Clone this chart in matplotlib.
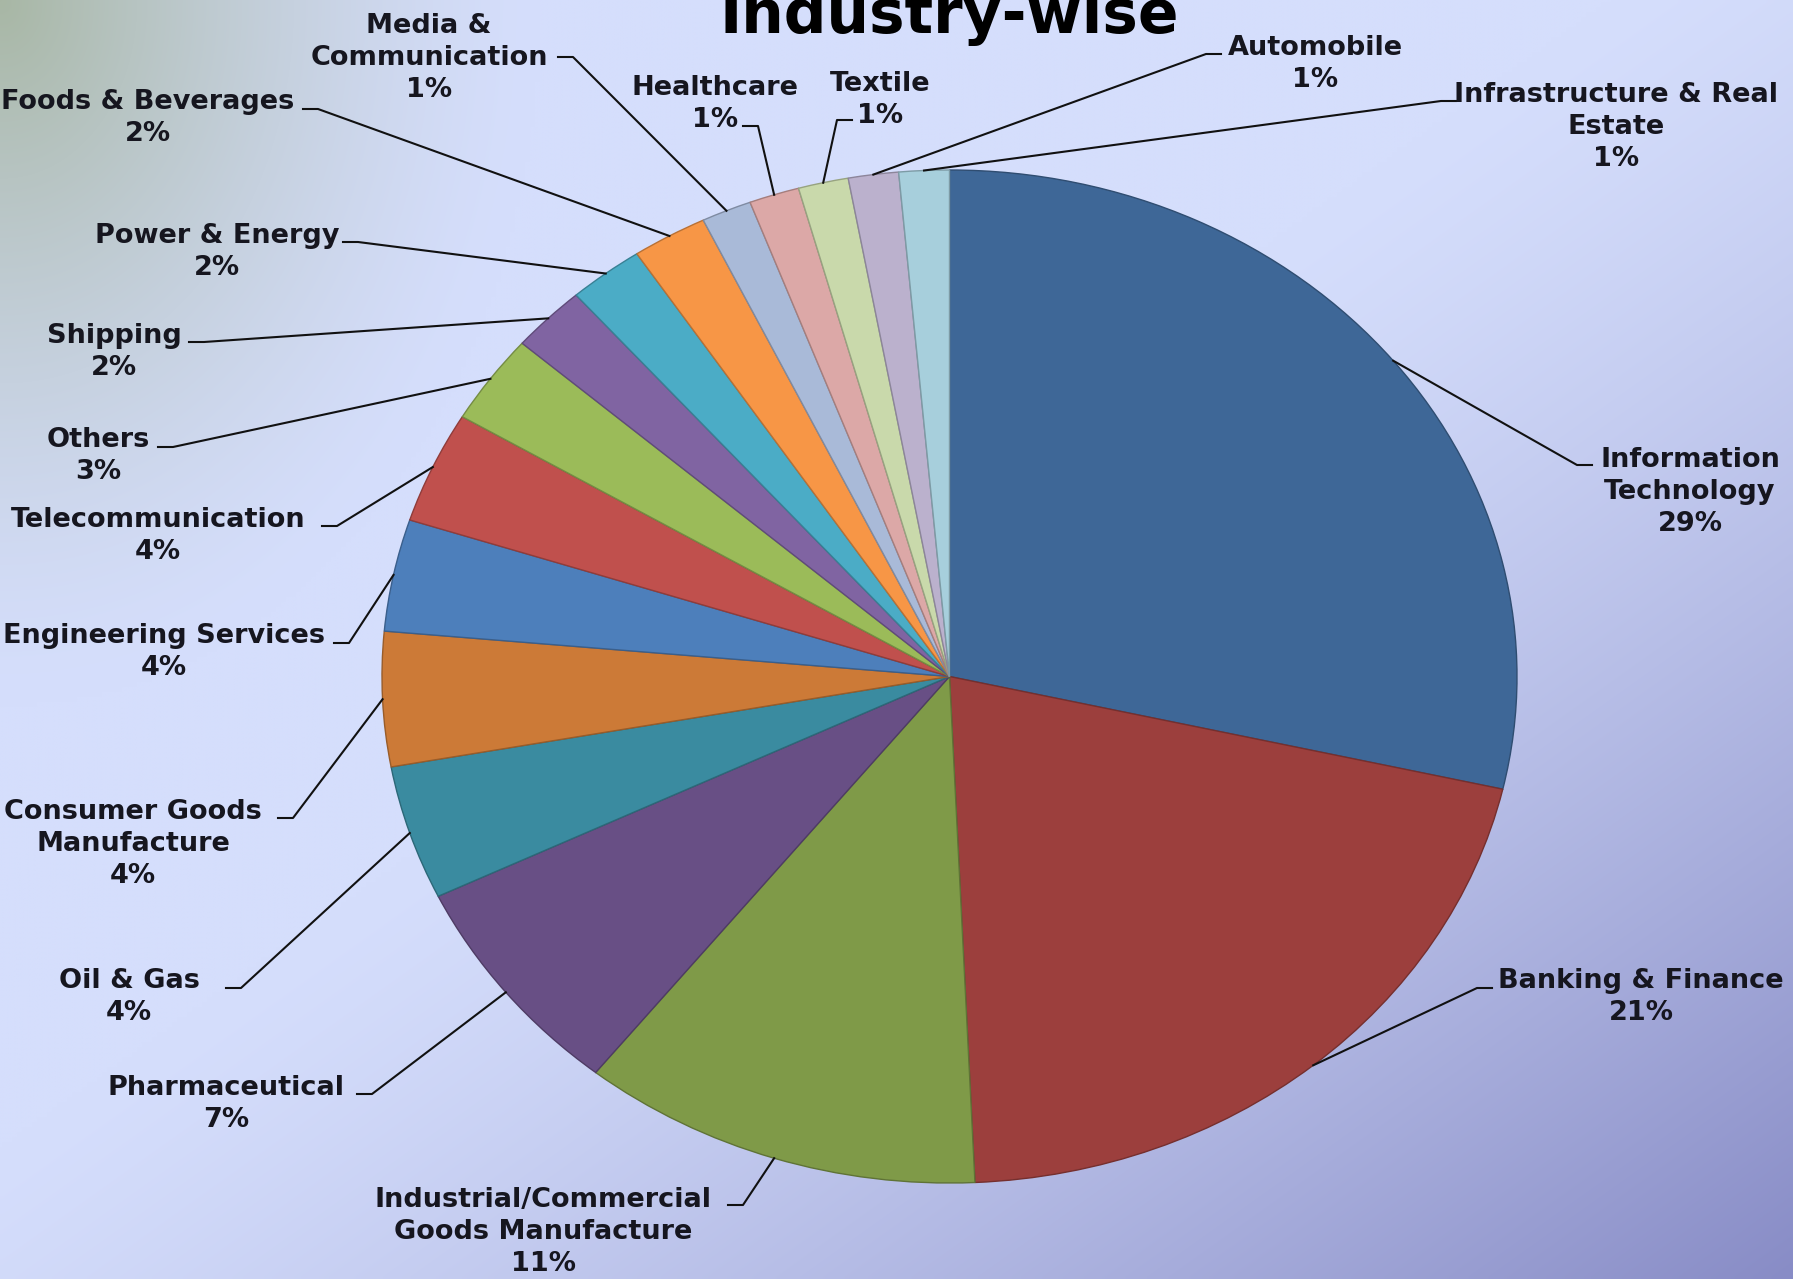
#!/usr/bin/env python

import numpy as np
import matplotlib.pyplot as plt
from matplotlib.lines import Line2D
from matplotlib.colors import to_rgb

# number of companies per industry, clockwise from 12 o'clock
industries = ["Information\nTechnology", "Banking & Finance",
              "Industrial/Commercial\nGoods Manufacture", "Pharmaceutical",
              "Oil & Gas", "Consumer Goods\nManufacture", "Engineering Services",
              "Telecommunication", "Others", "Shipping", "Power & Energy",
              "Foods & Beverages", "Media &\nCommunication", "Healthcare",
              "Textile", "Automobile", "Infrastructure & Real\nEstate"]
companies = [40, 29, 16, 10, 6, 6, 5, 5, 4, 3, 3, 3, 2, 2, 2, 2, 2]
colors = ["#3e6797", "#9c3f3d", "#7f9a48", "#684f85", "#3a8ba0", "#cc7a37",
          "#4d7fbb", "#c0504d", "#9bbb59", "#8064a2", "#4bacc6", "#f79646",
          "#a9bad8", "#dca8a7", "#c9d9ab", "#bbb1cd", "#a7cfdc"]

# label block centres and leader start points (figure pixels, from top-left)
label_pos = [(1690, 492), (1641, 997), (543, 1232), (226, 1104), (129, 997),
             (133, 844), (164, 652), (158, 536), (98, 456), (114, 352),
             (217, 252), (148, 118), (429, 58), (715, 104), (880, 100),
             (1315, 64), (1616, 127)]
leader_pos = [(1592, 465), (1492, 988), (728, 1205), (357, 1094), (226, 988),
              (278, 818), (334, 643), (322, 526), (158, 447), (189, 342),
              (343, 242), (303, 109), (558, 57), (743, 126), (852, 120),
              (1221, 54), (1456, 101)]

W, H = 1793, 1279
fig = plt.figure(figsize=(W / 100, H / 100), dpi=100)

# background: light periwinkle, greyish-green top-left, darker bottom-right
u, v = np.meshgrid(np.linspace(0, 1, 360), np.linspace(0, 1, 256))
base = np.array([213, 222, 252]) / 255
c_br = np.array([136, 140, 198]) / 255
c_tl = np.array([168, 183, 165]) / 255
w_br = np.clip(((u + v) / 2 - 0.45) / 0.55, 0, 1) ** 1.3
w_tl = np.clip(1 - np.sqrt((u / 0.3) ** 2 + (v / 0.55) ** 2), 0, 1) ** 1.4
grad = base + w_br[..., None] * (c_br - base) + w_tl[..., None] * (c_tl - base)
bg = fig.add_axes([0, 0, 1, 1])
bg.imshow(np.clip(grad, 0, 1), extent=[0, 1, 0, 1], aspect="auto",
          interpolation="bilinear")
bg.axis("off")

# the pie is stretched into an ellipse
ax = fig.add_axes([382 / W, 96 / H, 1135 / W, 1013 / H])
wedges, _ = ax.pie(companies, colors=colors, startangle=90, counterclock=False,
                   wedgeprops=dict(linewidth=1.0))
for w in wedges:
    w.set_edgecolor(tuple(c * 0.75 for c in to_rgb(w.get_facecolor()[:3])))
ax.set_aspect("auto")
ax.set_xlim(-1, 1)
ax.set_ylim(-1, 1)
ax.axis("off")

total = sum(companies)
for w, name, n, (tx, ty), (lx, ly) in zip(wedges, industries, companies,
                                          label_pos, leader_pos):
    fig.text(tx / W, 1 - ty / H, f"{name}\n{round(100 * n / total)}%",
             ha="center", va="center", fontsize=19.5, fontweight="bold",
             linespacing=1.32, color="#16161f")
    mid = np.deg2rad((w.theta1 + w.theta2) / 2)
    px, py = ax.transData.transform((np.cos(mid), np.sin(mid)))
    sy = H - ly
    sign = 1 if px > lx else -1
    fig.add_artist(Line2D([lx / W, (lx + 15 * sign) / W, px / W],
                          [sy / H, sy / H, py / H], color="#111111", lw=1.5))

fig.text(949 / W, 1 - 33 / H, "Industry-wise", ha="center", va="baseline",
         fontsize=43, fontweight="bold", color="black")

fig.savefig("out.png", dpi=100)
